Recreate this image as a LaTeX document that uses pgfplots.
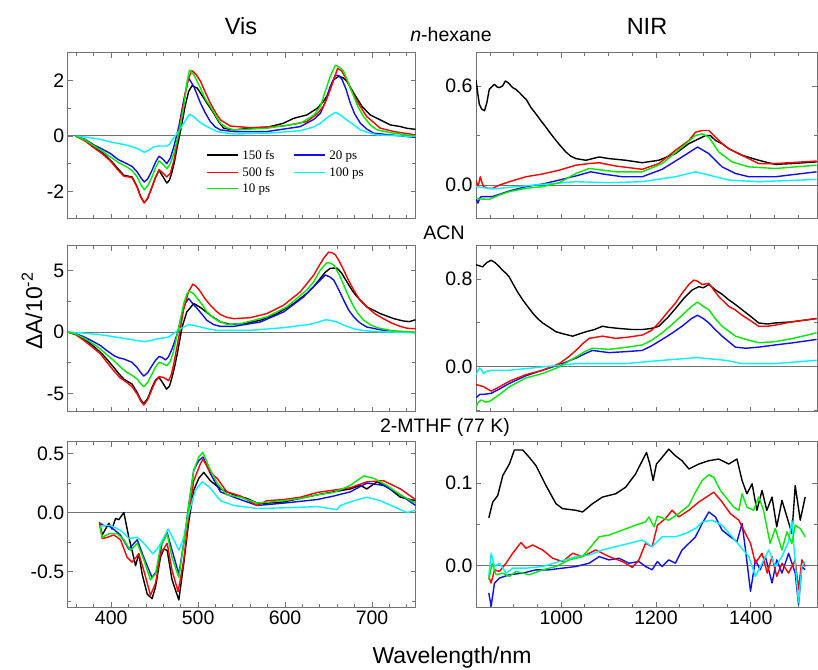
\documentclass[border=0pt]{standalone}
\usepackage{fontspec}
\setmainfont{Liberation Sans}
\newfontfamily\tnr{Liberation Serif}
\usepackage{pgfplots}
\pgfplotsset{compat=1.18}
\definecolor{cgreen}{RGB}{0,235,0}
\definecolor{cblue}{RGB}{15,15,235}
\definecolor{cred}{RGB}{250,0,0}
\definecolor{ccyan}{RGB}{0,245,250}
\definecolor{axgray}{RGB}{115,115,115}
\pgfplotsset{
  panel/.style={scale only axis, height=166pt,
    axis line style={axgray, line width=1pt},
    tick style={axgray, line width=0.9pt},
    major tick length=5pt, minor tick length=3.5pt,
    tick align=inside,
    tick label style={font=\fontsize{19.5}{22}\selectfont},
    every axis plot/.append style={line width=1.4pt, line join=round},
    clip=true},
  vis/.style={panel, width=347.8pt, xmin=350, xmax=750,
    xtick={400,500,600,700}, minor xtick={360,380,...,740}},
  nir/.style={panel, width=341pt, xmin=820, xmax=1540,
    xtick={1000,1200,1400}, minor xtick={850,900,...,1500}},
  zl/.style={axgray, line width=1pt, forget plot}
}
\tikzset{lgt/.style={anchor=base west, inner sep=0pt, font=\tnr\fontsize{13}{15}\selectfont}}
\begin{document}
\begin{tikzpicture}
\useasboundingbox (0pt,0pt) rectangle (818pt,669pt);

% ---------------- Row 1 Vis ----------------
\begin{axis}[vis, at={(67.7pt,450pt)}, anchor=south west,
  ymin=-3, ymax=3, ytick={-2,0,2}, yticklabels={-2,0,2}, minor ytick={-1,1},
  xticklabels={,,,}]
\addplot[zl] coordinates {(350,0) (750,0)};
\addplot[black] coordinates {(359,0) (370,-0.15) (380,-0.39) (390,-0.6) (399,-0.87) (407,-1.15) (414.6,-1.42) (424,-1.48) (430,-1.84) (434,-2.2) (438,-2.41) (442,-2.25) (447,-1.84) (451,-1.5) (455,-1.24) (458.6,-1.42) (464,-1.7) (467,-1.6) (470,-1.3) (473,-0.9) (476,-0.39) (480,0.22) (485,1.07) (489,1.6) (493,1.82) (499,1.73) (506.5,1.37) (512,1.1) (518,0.82) (524,0.5) (529.5,0.28) (541,0.22) (560,0.28) (579,0.31) (598,0.46) (610,0.64) (625,0.76) (637,1.0) (644,1.25) (648,1.43) (652,1.75) (656,2.04) (662,2.16) (667,2.1) (671,1.98) (679,1.55) (688.5,1.07) (698,0.76) (709.6,0.58) (721,0.4) (732.6,0.34) (740,0.28) (750,0.24)};
\addplot[cblue] coordinates {(359,0) (370,-0.12) (380,-0.32) (390,-0.48) (399,-0.63) (408,-0.85) (418,-1.0) (424,-1.1) (430,-1.3) (434,-1.5) (438,-1.66) (442,-1.55) (447,-1.24) (451,-0.95) (455,-0.73) (459,-0.82) (464,-1.0) (468,-0.8) (472,-0.39) (477.8,0.34) (483.5,1.31) (489,2.1) (495,1.79) (502.7,1.19) (508,0.85) (514,0.52) (520,0.32) (525.7,0.22) (541,0.16) (579,0.16) (617.6,0.34) (633,0.6) (640.6,0.82) (646,1.2) (652,1.79) (657.9,2.2) (662,2.18) (665.5,2.04) (670,1.7) (675,1.19) (680,0.8) (686.6,0.46) (694,0.25) (702,0.1) (750,-0.05)};
\addplot[cred] coordinates {(359,0) (370,-0.18) (380,-0.42) (390,-0.65) (399,-0.9) (407,-1.2) (414.6,-1.45) (424,-1.5) (430,-1.86) (434,-2.2) (438,-2.42) (442,-2.25) (447,-1.84) (451,-1.5) (455,-1.22) (459,-1.32) (464,-1.48) (468,-1.35) (472,-0.9) (476,-0.2) (480,0.6) (485,1.5) (489,2.1) (493,2.36) (497,2.25) (502.7,1.98) (508,1.6) (514,1.19) (520,0.85) (525.7,0.58) (537,0.36) (560,0.3) (598,0.36) (625,0.52) (637,0.8) (644,1.07) (650,1.5) (656,2.04) (660.5,2.45) (665,2.35) (671,2.04) (677,1.6) (682.8,1.25) (694,0.7) (709.6,0.28) (725,0.16) (750,0.04)};
\addplot[ccyan] coordinates {(359,0) (370,-0.04) (387.7,-0.12) (400,-0.22) (418,-0.33) (430,-0.45) (438,-0.59) (443,-0.52) (449,-0.39) (456,-0.36) (464,-0.36) (467,-0.3) (470,-0.15) (476,0.1) (483.5,0.46) (490,0.79) (495,0.7) (500,0.55) (506.5,0.4) (514,0.28) (521.8,0.16) (541,0.07) (579,0.1) (617.6,0.19) (633,0.33) (640.6,0.46) (650,0.7) (657.9,0.85) (663,0.77) (671,0.58) (679,0.4) (686.6,0.22) (696,0.12) (705.7,0.04) (750,-0.02)};
\addplot[cgreen] coordinates {(359,0) (370,-0.14) (380,-0.35) (390,-0.55) (399,-0.75) (408,-0.95) (418,-1.12) (424,-1.25) (430,-1.48) (434,-1.75) (438,-1.94) (442,-1.8) (447,-1.48) (451,-1.15) (455,-0.9) (459,-1.0) (464,-1.18) (468,-1.0) (472,-0.63) (477.8,0.1) (483.5,1.07) (487,1.9) (490,2.38) (495,2.22) (502.7,1.73) (508,1.35) (514,1.07) (520,0.75) (525.7,0.46) (533,0.3) (541,0.22) (579,0.28) (617.6,0.46) (633,0.75) (640.6,1.07) (646,1.6) (652,2.16) (657.9,2.56) (662,2.5) (667.4,2.34) (673,1.9) (679,1.43) (684,1.05) (690.4,0.7) (698,0.4) (705.7,0.22) (725,0.1) (750,0.0)};
% legend (key only)
\draw[black, line width=1.5pt] (axis description cs:0.401,0.385) -- ++(31pt,0pt) node[lgt, black, xshift=3.4pt, yshift=-4.3pt] {150 fs};
\draw[cred, line width=1.5pt] (axis description cs:0.401,0.281) -- ++(31pt,0pt) node[lgt, black, xshift=3.4pt, yshift=-4.3pt] {500 fs};
\draw[cgreen, line width=1.5pt] (axis description cs:0.401,0.185) -- ++(31pt,0pt) node[lgt, black, xshift=3.4pt, yshift=-4.3pt] {10 ps};
\draw[cblue, line width=1.5pt] (axis description cs:0.651,0.385) -- ++(31pt,0pt) node[lgt, black, xshift=3.4pt, yshift=-4.3pt] {20 ps};
\draw[ccyan, line width=1.5pt] (axis description cs:0.651,0.281) -- ++(31pt,0pt) node[lgt, black, xshift=3.4pt, yshift=-4.3pt] {100 ps};
\end{axis}

% ---------------- Row 1 NIR ----------------
\begin{axis}[nir, at={(476pt,450pt)}, anchor=south west,
  ymin=-0.206, ymax=0.8, ytick={0,0.6}, yticklabels={0.0,0.6}, minor ytick={0.3},
  xticklabels={,,}]
\addplot[zl] coordinates {(820,0) (1540,0)};
\addplot[black] coordinates {(820,0.636) (824,0.55) (827,0.49) (832,0.46) (838,0.45) (843,0.5) (848,0.58) (855,0.6) (859,0.61) (864,0.595) (869,0.59) (876,0.6) (882,0.63) (888,0.62) (897.5,0.59) (904,0.58) (911.6,0.56) (918,0.54) (925.6,0.52) (936,0.47) (946.7,0.43) (957,0.39) (967.7,0.35) (978,0.31) (988.8,0.27) (999,0.235) (1009.8,0.2) (1020,0.175) (1031,0.16) (1052,0.15) (1080,0.17) (1101,0.16) (1136,0.15) (1171,0.135) (1206,0.15) (1241,0.19) (1269,0.25) (1290.5,0.28) (1304.6,0.30) (1315,0.3) (1325.6,0.27) (1340,0.25) (1353.7,0.22) (1381.8,0.18) (1416.8,0.15) (1452,0.125) (1487,0.13) (1539,0.14)};
\addplot[cblue] coordinates {(820,-0.08) (824,-0.11) (828,-0.08) (831,-0.07) (855.5,-0.07) (890.5,-0.036) (925.6,-0.01) (960.7,0.006) (995.8,0.03) (1031,0.055) (1062.5,0.08) (1087,0.067) (1129,0.05) (1171,0.05) (1213,0.095) (1255,0.17) (1287.7,0.23) (1311.6,0.19) (1339.6,0.11) (1367.7,0.07) (1395.8,0.05) (1452,0.05) (1539,0.08)};
\addplot[cred] coordinates {(820,0.03) (823,-0.005) (826,0.01) (829,0.05) (832,0.02) (836,-0.01) (845,-0.02) (855.5,-0.02) (870,0.0) (890.5,0.02) (925.6,0.05) (960.7,0.067) (995.8,0.09) (1031,0.12) (1059,0.13) (1080,0.135) (1115,0.115) (1171,0.095) (1206,0.13) (1241,0.21) (1269.5,0.27) (1283.5,0.32) (1297.5,0.33) (1311.6,0.33) (1325.6,0.29) (1340,0.25) (1353.7,0.22) (1381.8,0.18) (1416.8,0.13) (1452,0.13) (1539,0.145)};
\addplot[ccyan] coordinates {(820,-0.01) (855.5,-0.024) (890.5,-0.014) (960.7,0.004) (1031,0.02) (1101,0.014) (1171,0.02) (1241,0.05) (1283.5,0.08) (1311.6,0.06) (1353.7,0.03) (1416.8,0.02) (1539,0.034)};
\addplot[cgreen] coordinates {(820,-0.08) (830,-0.085) (848,-0.087) (870,-0.06) (890.5,-0.04) (925.6,-0.02) (960.7,-0.01) (995.8,0.014) (1031,0.07) (1059,0.1) (1087,0.09) (1115,0.08) (1171,0.08) (1213,0.13) (1255,0.23) (1283.5,0.30) (1297.5,0.31) (1311.6,0.29) (1332.6,0.2) (1360.7,0.14) (1395.8,0.11) (1452,0.1) (1539,0.12)};
\end{axis}

% ---------------- Row 2 Vis ----------------
\begin{axis}[vis, at={(67.7pt,257pt)}, anchor=south west,
  ymin=-6.5, ymax=7, ytick={-5,0,5}, yticklabels={-5,0,5}, minor ytick={-2.5,2.5},
  xticklabels={,,,}]
\addplot[zl] coordinates {(350,0) (750,0)};
\addplot[black] coordinates {(350.6,0) (360,-0.2) (368.6,-0.55) (378,-1.05) (387.7,-1.64) (395,-2.2) (403,-2.87) (409,-3.4) (414.6,-3.83) (424,-4.23) (430,-4.92) (434,-5.5) (437.5,-5.82) (442,-5.4) (447,-4.5) (451,-3.9) (455,-3.69) (459,-4.1) (463.6,-4.64) (467,-4.4) (470,-3.69) (473,-2.8) (476,-1.78) (481.6,0.41) (487,1.64) (495,2.32) (502.7,2.0) (514,1.37) (525.7,0.82) (537,0.63) (552.5,0.68) (571.6,0.96) (590.8,1.5) (610,2.32) (625,3.14) (633,3.7) (640.6,4.37) (646,4.85) (652,5.19) (659.8,5.2) (665,4.8) (671,4.1) (677,3.4) (682.8,2.87) (694,2.05) (709.6,1.5) (725,1.09) (736,0.9) (743,0.85) (750,1.0)};
\addplot[cblue] coordinates {(350.6,0) (360,-0.15) (368.6,-0.38) (378,-0.72) (387.7,-1.1) (395,-1.5) (403,-1.91) (409,-2.1) (414.6,-2.19) (424,-2.46) (430,-2.9) (434,-3.3) (437.5,-3.58) (442,-3.3) (447,-2.73) (451,-2.3) (455,-2.0) (458.5,-2.05) (462.5,-2.27) (466,-2.0) (470,-1.37) (476,-0.14) (481.6,1.5) (485,2.3) (489,2.73) (494,2.3) (499,1.91) (505,1.4) (510,0.96) (518,0.6) (525.7,0.46) (541,0.46) (571.6,0.82) (598.5,1.64) (621.5,2.87) (630,3.5) (636.8,3.96) (646.4,4.64) (651,4.5) (656,4.23) (662,3.4) (667.4,2.6) (673,1.8) (679,1.23) (686,0.75) (694,0.41) (713,0.14) (750,-0.05)};
\addplot[cred] coordinates {(350.6,0) (360,-0.25) (368.6,-0.68) (378,-1.2) (387.7,-1.78) (395,-2.45) (403,-3.14) (410,-3.7) (418,-4.1) (424,-4.45) (430,-5.05) (434,-5.6) (437.5,-5.93) (442,-5.5) (447,-4.64) (451,-4.0) (455,-3.63) (460.5,-3.69) (466,-3.96) (469,-3.5) (472,-2.6) (477.8,-0.41) (483.5,1.91) (489,3.28) (494,3.9) (498,3.7) (502.7,3.28) (508,2.7) (514,2.19) (520,1.75) (525.7,1.42) (533,1.2) (541,1.09) (560,1.17) (579,1.5) (598.5,2.19) (617.6,3.28) (633,4.64) (640,5.5) (644.4,6.0) (650,6.5) (654,6.45) (657.9,6.28) (662,5.8) (667.4,5.05) (673,4.2) (679,3.42) (686,2.6) (694,2.05) (703,1.5) (713,1.09) (722,0.75) (732.6,0.46) (741,0.3) (750,0.27)};
\addplot[ccyan] coordinates {(350.6,0) (368,-0.08) (387.7,-0.22) (400,-0.35) (418,-0.55) (430,-0.7) (437.5,-0.77) (445,-0.7) (452.9,-0.55) (460,-0.48) (466,-0.41) (470,-0.2) (474,0) (478,0.2) (483.5,0.41) (489,0.6) (495,0.55) (502.7,0.41) (512,0.25) (521.8,0.14) (560,0.14) (598.5,0.36) (629,0.63) (640,0.85) (646.4,1.0) (652,0.95) (659.8,0.82) (668,0.55) (679,0.27) (690,0.12) (702,0.05) (750,-0.05)};
\addplot[cgreen] coordinates {(350.6,0) (360,-0.18) (368.6,-0.48) (378,-0.9) (387.7,-1.37) (395,-1.85) (403,-2.32) (410,-2.8) (418,-3.28) (424,-3.5) (430,-3.83) (434,-4.2) (437.5,-4.43) (442,-4.1) (447,-3.42) (451,-2.85) (455,-2.46) (459,-2.55) (464,-2.73) (468,-2.4) (472,-1.5) (477.8,0.41) (483.5,2.32) (487,3.1) (490,3.33) (495,3.1) (499,2.73) (505,2.2) (510,1.64) (516,1.25) (521.8,0.96) (533,0.63) (548.7,0.68) (579,1.23) (602,2.05) (625,3.42) (633,4.1) (640.6,5.05) (648.3,5.66) (652,5.6) (656,5.46) (662,4.7) (667.4,3.83) (673,2.9) (679,2.05) (684,1.5) (690.4,0.96) (698,0.6) (705.7,0.36) (725,0.08) (750,0.0)};
\end{axis}

% ---------------- Row 2 NIR ----------------
\begin{axis}[nir, at={(476pt,257pt)}, anchor=south west,
  ymin=-0.41, ymax=1.1, ytick={0,0.8}, yticklabels={0.0,0.8}, minor ytick={-0.4,0.4},
  xticklabels={,,}]
\addplot[zl] coordinates {(820,0) (1540,0)};
\addplot[black] coordinates {(820,0.93) (827,0.92) (834,0.91) (843,0.95) (852,0.97) (860,0.95) (869.5,0.91) (876,0.88) (883.5,0.85) (890,0.82) (897.5,0.76) (908,0.68) (918.6,0.61) (929,0.55) (939.6,0.49) (950,0.44) (960.7,0.40) (975,0.36) (988.8,0.32) (1005,0.3) (1024,0.28) (1038,0.3) (1052,0.32) (1070,0.34) (1087,0.37) (1100,0.36) (1122,0.35) (1150,0.34) (1171,0.34) (1190,0.35) (1206,0.37) (1225,0.45) (1241,0.53) (1260,0.63) (1276.5,0.70) (1290.5,0.73) (1300,0.72) (1311.6,0.75) (1325.6,0.70) (1340,0.66) (1353.7,0.61) (1367,0.57) (1381.8,0.52) (1400,0.46) (1416.8,0.40) (1435,0.39) (1452,0.40) (1487,0.41) (1539,0.44)};
\addplot[cblue] coordinates {(820,-0.28) (828,-0.25) (836,-0.25) (852,-0.24) (870,-0.2) (890.5,-0.15) (925.6,-0.08) (960.7,-0.03) (995.8,0.02) (1031,0.08) (1050,0.12) (1066,0.15) (1101,0.13) (1140,0.14) (1171,0.15) (1190,0.19) (1213,0.25) (1235,0.31) (1255,0.37) (1275,0.44) (1287.7,0.47) (1300,0.44) (1311.6,0.4) (1325,0.34) (1339.6,0.28) (1367.7,0.18) (1390,0.17) (1416.8,0.18) (1452,0.2) (1490,0.22) (1539,0.25)};
\addplot[cred] coordinates {(820,-0.16) (836,-0.18) (852,-0.22) (870,-0.18) (890.5,-0.13) (925.6,-0.07) (960.7,-0.03) (995.8,0.03) (1015,0.09) (1031,0.15) (1045,0.21) (1059,0.26) (1087,0.28) (1115,0.26) (1140,0.27) (1171,0.29) (1190,0.33) (1206,0.4) (1225,0.5) (1241,0.58) (1255,0.67) (1269.5,0.75) (1280,0.79) (1287.7,0.78) (1297.5,0.75) (1311.6,0.76) (1322,0.7) (1332.6,0.64) (1353.7,0.55) (1367,0.52) (1381.8,0.47) (1400,0.42) (1416.8,0.37) (1435,0.37) (1452,0.38) (1487,0.41) (1539,0.44)};
\addplot[ccyan] coordinates {(820,-0.07) (827,-0.01) (831,-0.02) (836,-0.06) (842,-0.04) (855.5,-0.03) (890.5,-0.03) (960.7,0.0) (1031,0.03) (1136,0.03) (1213,0.06) (1287.7,0.085) (1346.7,0.06) (1381.8,0.03) (1452,0.03) (1539,0.06)};
\addplot[cgreen] coordinates {(820,-0.36) (825,-0.32) (831,-0.3) (840,-0.32) (848,-0.315) (870,-0.25) (890.5,-0.18) (925.6,-0.10) (960.7,-0.06) (995.8,0.0) (1015,0.05) (1031,0.09) (1050,0.14) (1066,0.17) (1101,0.16) (1140,0.18) (1171,0.2) (1190,0.24) (1213,0.31) (1235,0.39) (1255,0.47) (1275,0.55) (1287.7,0.59) (1300,0.55) (1311.6,0.52) (1325,0.44) (1339.6,0.37) (1367.7,0.28) (1390,0.25) (1416.8,0.22) (1452,0.23) (1490,0.26) (1539,0.31)};
\end{axis}

% ---------------- Row 3 Vis ----------------
\begin{axis}[vis, at={(67.7pt,62pt)}, anchor=south west, height=165.3pt,
  ymin=-0.8, ymax=0.6, ytick={-0.5,0,0.5}, yticklabels={-0.5,0.0,0.5}, minor ytick={-0.75,-0.25,0.25},
  xticklabels={400,500,600,700}]
\addplot[zl] coordinates {(350,0) (750,0)};
\addplot[black] coordinates {(386.6,-0.09) (389.7,-0.19) (393.5,-0.14) (397.3,-0.09) (401,-0.14) (405,-0.05) (408.8,-0.06) (414.6,0.0) (420.3,-0.21) (424,-0.32) (428,-0.45) (431.8,-0.35) (435.6,-0.52) (441.4,-0.69) (447,-0.73) (451,-0.63) (456.7,-0.38) (460.5,-0.31) (464.4,-0.32) (470,-0.57) (477.8,-0.74) (483.5,-0.43) (489,-0.09) (495,0.19) (500.8,0.29) (506.5,0.34) (514,0.27) (525.7,0.20) (541,0.15) (556,0.12) (567.8,0.08) (579,0.08) (598.5,0.09) (617.6,0.12) (636.8,0.15) (656,0.175) (675,0.2) (686.6,0.23) (694,0.2) (705.7,0.26) (717,0.22) (732.6,0.13) (750,0.1)};
\addplot[cblue] coordinates {(386.6,-0.09) (391.6,-0.11) (399.2,-0.12) (410.7,-0.19) (420.3,-0.31) (430,-0.23) (437.5,-0.38) (447,-0.55) (452.9,-0.49) (458.6,-0.26) (464.4,-0.17) (470,-0.32) (477.8,-0.52) (483.5,-0.26) (489,0.05) (495,0.36) (500.8,0.44) (505.7,0.47) (514,0.33) (525.7,0.175) (541,0.13) (567.8,0.06) (598.5,0.08) (636.8,0.11) (656,0.14) (675,0.175) (694,0.25) (713,0.23) (732.6,0.15) (750,0.06)};
\addplot[cred] coordinates {(386.6,-0.08) (389.7,-0.22) (395.4,-0.21) (403,-0.19) (410.7,-0.23) (418.4,-0.38) (424,-0.42) (431.8,-0.35) (437.5,-0.49) (445.2,-0.70) (451,-0.6) (456.7,-0.35) (464.4,-0.26) (470,-0.49) (477,-0.67) (483.5,-0.40) (489,-0.04) (495,0.27) (502.7,0.415) (505.7,0.45) (514,0.34) (521.8,0.29) (533,0.175) (548.7,0.14) (567.8,0.06) (579,0.1) (598.5,0.11) (617.6,0.13) (636.8,0.17) (656,0.19) (675,0.21) (694,0.26) (713,0.27) (732.6,0.2) (750,0.11)};
\addplot[ccyan] coordinates {(386.6,-0.12) (391.6,-0.11) (399.2,-0.11) (410.7,-0.15) (420.3,-0.22) (430,-0.21) (437.5,-0.26) (448,-0.35) (454.8,-0.29) (460.5,-0.21) (465.5,-0.14) (472,-0.23) (477.8,-0.32) (483.5,-0.21) (489,-0.01) (497,0.19) (504.6,0.26) (512.3,0.22) (525.7,0.1) (541,0.06) (567.8,0.034) (598.5,0.04) (636.8,0.05) (659.8,0.025) (663.6,0.06) (679,0.1) (694,0.13) (709.6,0.1) (725,0.05) (740.4,0.0) (750,0.02)};
\addplot[cgreen] coordinates {(386.6,-0.11) (389.7,-0.21) (397.3,-0.18) (407,-0.18) (414.6,-0.23) (422,-0.32) (430,-0.26) (437.5,-0.40) (445.2,-0.57) (451,-0.52) (456.7,-0.29) (464.4,-0.18) (470,-0.38) (477.8,-0.55) (483.5,-0.26) (489,0.05) (495,0.36) (500.8,0.47) (505.4,0.51) (512.3,0.39) (521.8,0.25) (533,0.15) (548.7,0.13) (567.8,0.08) (598.5,0.1) (617.6,0.12) (636.8,0.15) (656,0.17) (675,0.23) (690.4,0.31) (702,0.29) (717,0.23) (732.6,0.15) (750,0.08)};
\end{axis}

% ---------------- Row 3 NIR ----------------
\begin{axis}[nir, at={(476pt,62pt)}, anchor=south west, height=165.3pt,
  ymin=-0.05, ymax=0.15, ytick={0,0.1}, yticklabels={0.0,0.1}, minor ytick={0.05},
  xticklabels={1000,1200,1400}]
\addplot[zl] coordinates {(820,0) (1540,0)};
\addplot[black] coordinates {(847,0.058) (855.4,0.077) (866,0.085) (876.5,0.109) (890.5,0.123) (901,0.14) (918.6,0.14) (932.6,0.131) (946.7,0.121) (967.7,0.097) (988.8,0.075) (1002.8,0.069) (1031,0.067) (1045,0.065) (1066,0.075) (1087,0.083) (1115,0.087) (1136,0.095) (1157,0.111) (1171,0.127) (1180,0.137) (1187,0.123) (1194,0.103) (1201,0.123) (1210,0.129) (1227,0.141) (1241,0.133) (1255,0.127) (1269.5,0.117) (1290.5,0.123) (1311.6,0.127) (1332.6,0.129) (1353.7,0.123) (1371,0.129) (1381.8,0.103) (1392,0.087) (1403,0.099) (1413,0.067) (1424,0.091) (1434,0.067) (1445,0.083) (1455,0.047) (1466,0.079) (1476.5,0.059) (1487,0.039) (1494,0.097) (1504.6,0.055) (1515,0.083)};
\addplot[cblue] coordinates {(847,-0.033) (852,-0.049) (859,-0.021) (869.5,-0.015) (890.5,-0.011) (918.6,-0.009) (946.7,-0.005) (974.7,-0.005) (1002.8,-0.003) (1031,-0.001) (1059,0.003) (1080,0.011) (1101,0.007) (1122,0.009) (1143,0.003) (1164,0.005) (1178,-0.001) (1192,-0.005) (1203,0.005) (1213,-0.001) (1227,0.007) (1241,0.003) (1255,0.019) (1269.5,0.027) (1283.5,0.035) (1297.5,0.051) (1311.6,0.065) (1325.6,0.059) (1339.6,0.043) (1357,0.035) (1371,0.029) (1381.8,0.051) (1389,0.019) (1399.6,-0.031) (1410,0.007) (1420,-0.005) (1431,0.011) (1445,-0.021) (1455,0.007) (1466,-0.009) (1480,0.015) (1494,-0.009) (1501,-0.047) (1508,-0.001) (1515,-0.005)};
\addplot[cred] coordinates {(847,-0.013) (852,-0.021) (859,-0.005) (869.5,-0.007) (883.5,0.003) (897.5,0.015) (915,0.028) (925.6,0.021) (939.6,0.025) (960.7,0.019) (981.8,0.009) (1002.8,0.005) (1024,0.015) (1045,0.011) (1073,0.019) (1101,0.011) (1129,0.005) (1150,-0.002) (1164,0.007) (1178,0.027) (1192,0.023) (1203,0.049) (1220,0.057) (1234,0.067) (1248,0.059) (1269.5,0.067) (1290.5,0.077) (1311.6,0.085) (1322,0.089) (1339.6,0.077) (1357,0.063) (1375,0.055) (1389,0.039) (1399.6,0.027) (1410,0.003) (1424,0.015) (1435,-0.009) (1445,0.011) (1455,-0.013) (1466,0.003) (1480,-0.009) (1494,0.007) (1501,-0.029) (1508,0.007) (1515,-0.001)};
\addplot[ccyan] coordinates {(847,-0.013) (852,0.015) (859,-0.001) (869.5,0.003) (883.5,-0.009) (897.5,-0.003) (925.6,-0.003) (960.7,-0.001) (995.8,0.005) (1031,0.011) (1059,0.013) (1087,0.019) (1115,0.023) (1143,0.027) (1171,0.031) (1192,0.023) (1213,0.035) (1241,0.035) (1262.5,0.039) (1283.5,0.045) (1297.5,0.053) (1318.6,0.055) (1339.6,0.049) (1360.7,0.035) (1378,0.023) (1396,0.011) (1410,-0.013) (1424,0.003) (1438,0.019) (1452,-0.001) (1466,0.011) (1480,0.029) (1487,0.055) (1494,0.003) (1501,-0.045) (1508,-0.001) (1515,0.005)};
\addplot[cgreen] coordinates {(847,-0.017) (854,0.003) (862.5,-0.011) (876.5,-0.009) (890.5,-0.013) (904.6,-0.007) (932.6,-0.011) (960.7,-0.005) (988.8,-0.001) (1017,0.007) (1045,0.011) (1062.5,0.023) (1080,0.035) (1101,0.037) (1129,0.043) (1157,0.049) (1178,0.053) (1185,0.059) (1196,0.047) (1203,0.06) (1227,0.055) (1248,0.063) (1269.5,0.073) (1283.5,0.089) (1297.5,0.103) (1311.6,0.11) (1322,0.107) (1336,0.091) (1350,0.081) (1364,0.071) (1375,0.067) (1381.8,0.087) (1392,0.071) (1406,0.067) (1417,0.083) (1427,0.067) (1441,0.027) (1452,0.045) (1466,0.019) (1476.5,0.041) (1487,0.027) (1494,0.049) (1504.6,0.045) (1515,0.035)};
\end{axis}

% ---------------- Texts ----------------
\node[font=\fontsize{23.5}{26}\selectfont, anchor=base] at (241pt,634pt) {Vis};
\node[font=\fontsize{23.5}{26}\selectfont, anchor=base] at (647pt,634pt) {NIR};
\node[font=\fontsize{19.5}{22}\selectfont, anchor=base] at (451pt,627pt) {\textit{n}-hexane};
\node[font=\fontsize{19.5}{22}\selectfont, anchor=base] at (444pt,429pt) {ACN};
\node[font=\fontsize{19.5}{22}\selectfont, anchor=base] at (445pt,236pt) {2-MTHF (77 K)};
\node[font=\fontsize{23}{26}\selectfont, anchor=base] at (452pt,6pt) {Wavelength/nm};
\node[font=\fontsize{23}{26}\selectfont, anchor=base, rotate=90] at (42pt,358pt) {ΔA/10\textsuperscript{-2}};
\end{tikzpicture}
\end{document}
